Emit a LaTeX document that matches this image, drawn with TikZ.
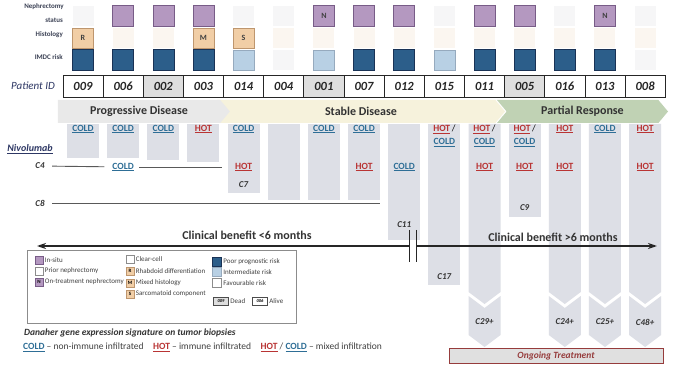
\documentclass[tikz,border=0pt]{standalone}
\usepackage{fontspec}
\setmainfont{Carlito}
\usepackage{tikz}
\usetikzlibrary{positioning, calc, arrows.meta, shapes.symbols}
\definecolor{insitu}{RGB}{180,152,192}
\definecolor{insituline}{RGB}{120,92,135}
\definecolor{histfill}{RGB}{241,206,166}
\definecolor{histline}{RGB}{190,150,110}
\definecolor{poorrisk}{RGB}{44,94,138}
\definecolor{poorline}{RGB}{25,50,85}
\definecolor{midrisk}{RGB}{184,208,228}
\definecolor{midline}{RGB}{150,170,190}
\definecolor{faintgray}{RGB}{246,246,247}
\definecolor{faintpeach}{RGB}{251,246,240}
\definecolor{barfill}{RGB}{221,223,230}
\definecolor{coldblue}{RGB}{46,110,150}
\definecolor{hotred}{RGB}{185,52,52}
\definecolor{navy}{RGB}{45,55,100}
\definecolor{rowtext}{RGB}{60,66,85}
\definecolor{progfill}{RGB}{233,233,233}
\definecolor{stabfill}{RGB}{246,242,220}
\definecolor{partfill}{RGB}{192,210,180}
\definecolor{ongoing}{RGB}{150,60,60}

\newcommand{\coldtag}{\textcolor{coldblue}{\underline{\textbf{COLD}}}}
\newcommand{\hottag}{\textcolor{hotred}{\underline{\textbf{HOT}}}}

\begin{document}
\begin{tikzpicture}[
    x=1pt, y=-1pt,
    cell/.style={minimum width=21pt, minimum height=20.5pt, inner sep=0pt},
    cellmark/.style={font=\fontsize{8}{8}\selectfont\bfseries, text=black!75},
    n-I/.style={cell, fill=insitu, draw=insituline, line width=0.6pt},
    n-P/.style={cell, fill=faintgray},
    n-N/.style={n-I, label={[cellmark]center:N}},
    h-C/.style={cell, fill=faintpeach},
    h-R/.style={cell, fill=histfill, draw=histline, line width=0.4pt, label={[cellmark]center:R}},
    h-M/.style={cell, fill=histfill, draw=histline, line width=0.4pt, label={[cellmark]center:M}},
    h-S/.style={cell, fill=histfill, draw=histline, line width=0.4pt, label={[cellmark]center:S}},
    r-P/.style={cell, fill=poorrisk, draw=poorline, line width=0.6pt},
    r-I/.style={cell, fill=midrisk, draw=midline, line width=0.4pt},
    r-F/.style={cell, fill=faintgray},
    rowlbl/.style={anchor=east, inner sep=0pt, font=\fontsize{7}{7}\selectfont\bfseries, text=rowtext},
    idbox/.style={draw=black!85, line width=0.7pt, minimum width=40.15pt, minimum height=22pt, inner sep=0pt, font=\fontsize{12.5}{12.5}\selectfont\bfseries\itshape, text=black!85},
    id-D/.style={idbox, fill=black!13},
    id-A/.style={idbox, fill=white},
    phase/.style={signal, signal to=east, signal pointer angle=100, minimum height=23pt, inner sep=0pt, font=\fontsize{12}{12}\selectfont\bfseries, text=black!80},
    bar/.style={fill=barfill},
    celltag/.style={font=\fontsize{9.5}{13}\selectfont, align=center, inner sep=1pt},
    cyc/.style={font=\fontsize{9}{9}\selectfont\bfseries\itshape, text=black!80},
    cline/.style={draw=black!65, line width=0.9pt, shorten <=4pt, shorten >=7pt},
    benefit/.style={line width=1.5pt, draw=black!85, -{Stealth[length=9pt,width=6pt]}},
    bnote/.style={font=\fontsize{12}{12}\selectfont\bfseries, text=black!80},
    lgsq/.style={draw=black!45, minimum size=8pt, inner sep=0pt, line width=0.4pt, font=\fontsize{5}{5}\selectfont\bfseries},
    lgtxt/.style={font=\fontsize{7}{7}\selectfont, text=black!75, inner sep=1.5pt}
]
\useasboundingbox[fill=white] (0,0) rectangle (675,366);

% patient columns: nephrectomy / histology / IMDC risk / status
\foreach \id/\ns/\hs/\rs/\st [count=\i from 0] in {009/P/R/P/A, 006/I/C/P/A, 002/I/C/P/D, 003/I/M/P/A, 014/P/S/I/A, 004/P/C/F/A, 001/N/C/I/D, 007/I/C/P/A, 012/I/C/P/A, 015/P/C/I/A, 011/I/C/P/A, 005/I/C/P/D, 016/P/C/P/A, 013/N/C/P/A, 008/P/C/F/A}{
  \pgfmathsetmacro{\cx}{83+40.15*\i}
  \node[n-\ns] (n\i) at (\cx,16) {};
  \node[h-\hs] (h\i) at (\cx,38) {};
  \node[r-\rs] (r\i) at (\cx,60) {};
  \node[id-\st] (id\i) at (\cx,86) {\id};
}
\node[rowlbl] (lblneph) at (64,7) {Nephrectomy};
\node[rowlbl] (lblstat) at (63,20) {status};
\node[rowlbl] (lblhist) at (63,35) {Histology};
\node[rowlbl] (lblimdc) at (63,57) {IMDC risk};
\node[font=\fontsize{11}{11}\selectfont\itshape, text=navy] (pid) at (33,86) {Patient ID};

% response phases
\node[phase, fill=stabfill, signal from=west, minimum width=288pt] (stable) at (361,111.5) {Stable Disease};
\node[phase, fill=partfill, signal from=west, minimum width=171pt] (partial) at (582.5,111.5) {Partial Response};
\node[phase, fill=progfill, minimum width=172pt] (prog) at (139,111.5) {Progressive Disease};

% treatment bars
\foreach \i/\yend in {0/158, 1/158, 2/160, 3/162, 4/193, 5/200, 6/200, 7/200, 8/240, 9/285, 11/217}{
  \pgfmathsetmacro{\cx}{83+40.15*\i}
  \fill[bar] (\cx-16,124) rectangle (\cx+16,\yend);
}
\foreach \i in {10,12,13,14}{
  \pgfmathsetmacro{\cx}{83+40.15*\i}
  \fill[bar] (\cx-16,124) -- (\cx+16,124) -- (\cx+16,292) -- (\cx,304) -- (\cx-16,292) -- cycle;
  \fill[bar] (\cx-16,296) -- (\cx,308) -- (\cx+16,296) -- (\cx+16,335) -- (\cx,347) -- (\cx-16,335) -- cycle;
}

% biopsy at baseline
\foreach \i in {0,1,2,4,6,7,13}
  \node[celltag] (ta\i) at (id\i |- 0,129) {\coldtag};
\foreach \i in {3,12,14}
  \node[celltag] (ta\i) at (id\i |- 0,129) {\hottag};
\foreach \i in {9,10,11}
  \node[celltag] (ta\i) at (id\i |- 0,136) {\hottag\,/\\\coldtag};

% biopsy on treatment
\node[font=\fontsize{10}{10}\selectfont\bfseries\itshape, text=navy] (nivo) at (30,149) {\underline{Nivolumab}};
\node[cyc] (c4) at (40,166) {C4};
\node[celltag] (tb1) at (id1 |- 0,167) {\coldtag};
\node[celltag] (tb8) at (id8 |- 0,167) {\coldtag};
\foreach \i in {4,7,10,11,12,14}
  \node[celltag] (tb\i) at (id\i |- 0,167) {\hottag};
\draw[cline] (c4) -- (tb1);
\draw[cline, shorten >=12pt] (tb1) -- (tb4);

\node[cyc] (c8) at (40,203) {C8};
\coordinate (c8end) at (380,203);
\draw[cline, shorten >=0pt] (c8) -- (c8end);

% cycles
\node[cyc] (cyc7) at (id4 |- 0,185) {C7};
\node[cyc] (cyc11) at (id8 |- 0,225) {C11};
\node[cyc] (cyc9) at (id11 |- 0,208) {C9};
\node[cyc] (cyc17) at (id9 |- 0,277) {C17};
\node[cyc] (cyc29) at (id10 |- 0,322) {C29+};
\node[cyc] (cyc24) at (id12 |- 0,322) {C24+};
\node[cyc] (cyc25) at (id13 |- 0,322) {C25+};
\node[cyc] (cyc48) at (id14 |- 0,322) {C48+};

% clinical benefit
\node[minimum width=6pt, minimum height=32pt, inner sep=0pt] (brk) at (413,246) {};
\draw[line width=1.3pt, draw=black!85] (brk.north west) -- (brk.south west) (brk.north east) -- (brk.south east);
\coordinate (leftend) at (37,246);
\coordinate (rightend) at (657,246);
\draw[benefit] (brk.west) -- (leftend);
\draw[benefit] (brk.east) -- (rightend);
\node[bnote] (lt6) at (247,235) {Clinical benefit <6 months};
\node[bnote] (gt6) at (553,237) {Clinical benefit >6 months};

\node[draw=ongoing, line width=0.8pt, fill=black!12, minimum width=214pt, minimum height=15pt, inner sep=0pt, font=\fontsize{9.5}{9.5}\selectfont\bfseries\itshape, text=ongoing] (ongo) at (556,355.5) {Ongoing Treatment};

% legend
\node[draw=black!45, line width=0.6pt, fill=white, minimum width=269pt, minimum height=73pt, inner sep=0pt] (legend) at (161.5,286.5) {};
\node[lgsq, fill=insitu, draw=insituline] (lgi) at (39,260) {};
\node[lgtxt, right=0pt of lgi] {In-situ};
\node[lgsq, fill=white] (lgp) at (39,271) {};
\node[lgtxt, right=0pt of lgp] {Prior nephrectomy};
\node[lgsq, fill=insitu, draw=insituline] (lgn) at (39,282) {N};
\node[lgtxt, right=0pt of lgn] {On-treatment nephrectomy};
\node[lgsq, fill=white] (lgc) at (130,259) {};
\node[lgtxt, right=0pt of lgc] {Clear-cell};
\node[lgsq, fill=histfill, draw=histline] (lgr) at (130,271) {R};
\node[lgtxt, right=0pt of lgr] {Rhabdoid differentiation};
\node[lgsq, fill=histfill, draw=histline] (lgm) at (130,283) {M};
\node[lgtxt, right=0pt of lgm] {Mixed histology};
\node[lgsq, fill=histfill, draw=histline] (lgs) at (130,294) {S};
\node[lgtxt, right=0pt of lgs] {Sarcomatoid component};
\node[lgsq, minimum size=9pt, fill=poorrisk, draw=poorline] (lgpoor) at (217,262) {};
\node[lgtxt, right=0pt of lgpoor] {Poor prognostic risk};
\node[lgsq, minimum size=9pt, fill=midrisk, draw=midline] (lgmid) at (217,272) {};
\node[lgtxt, right=0pt of lgmid] {Intermediate risk};
\node[lgsq, minimum size=9pt, fill=white] (lgfav) at (217,283) {};
\node[lgtxt, right=0pt of lgfav] {Favourable risk};
\node[lgsq, minimum width=15pt, fill=black!13, draw=black!70, font=\fontsize{4.5}{4.5}\selectfont\bfseries\itshape] (lgdead) at (221,301) {009};
\node[lgtxt, right=0pt of lgdead] (dead) {Dead};
\node[lgsq, minimum width=15pt, fill=white, draw=black!70, font=\fontsize{4.5}{4.5}\selectfont\bfseries\itshape] (lgalive) at (260,301) {006};
\node[lgtxt, right=0pt of lgalive] {Alive};

\node[anchor=west, inner sep=0pt, font=\fontsize{9.5}{9.5}\selectfont\bfseries\itshape, text=black!80] (danaher) at (24,333) {Danaher gene expression signature on tumor biopsies};
\node[anchor=west, inner sep=0pt, font=\fontsize{9.5}{9.5}\selectfont, text=black!75] (key) at (23,347) {\coldtag{} – non-immune infiltrated\quad\hottag{} – immune infiltrated\quad\hottag{} / \coldtag{} – mixed infiltration};
\end{tikzpicture}
\end{document}
